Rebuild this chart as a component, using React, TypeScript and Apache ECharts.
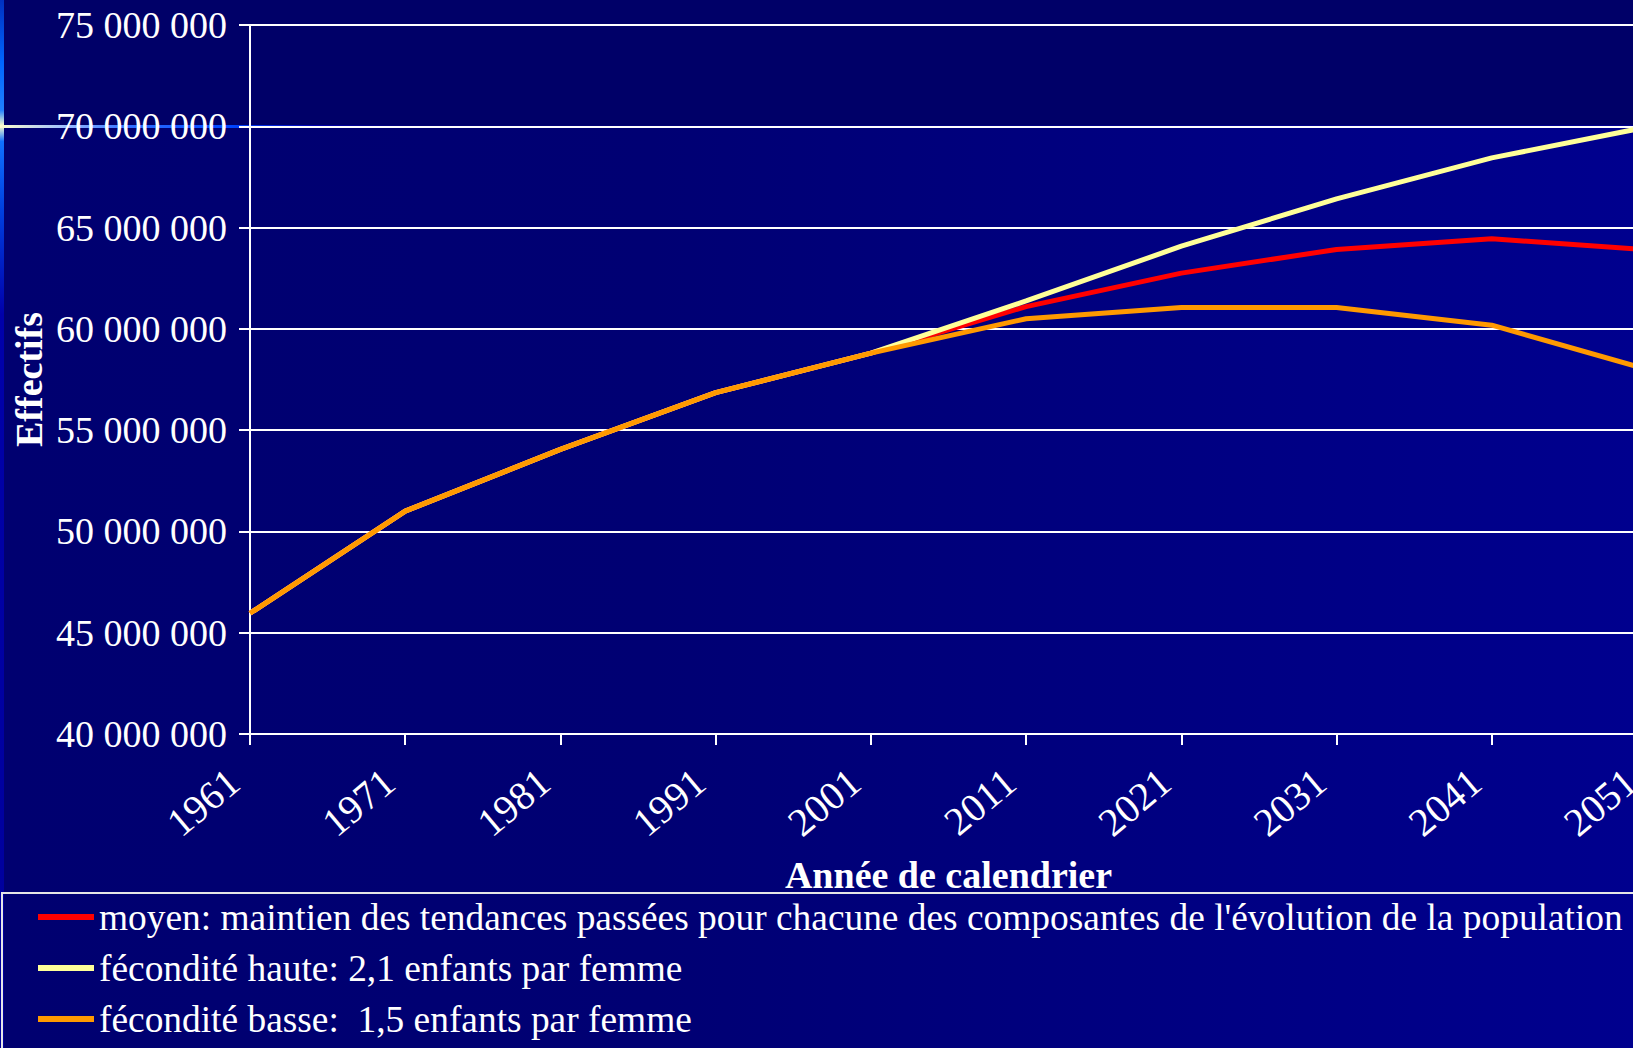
import React, { useEffect, useRef } from "react";
import * as echarts from "echarts";

const years = ["1961", "1971", "1981", "1991", "2001", "2011", "2021", "2031", "2041", "2051"];
const seriesNames = [
  "moyen: maintien des tendances passées pour chacune des composantes de l'évolution de la population",
  "fécondité haute: 2,1 enfants par femme",
  "fécondité basse:  1,5 enfants par femme",
];
const moyen = [45960000, 51000000, 54050000, 56850000, 58800000, 61100000, 62750000, 63920000, 64450000, 63900000];
const haute = [45960000, 51000000, 54050000, 56850000, 58800000, 61380000, 64080000, 66420000, 68440000, 69960000];
const basse = [45960000, 51000000, 54050000, 56850000, 58800000, 60500000, 61050000, 61050000, 60180000, 58000000];
const colors = ["#FF0000", "#FFFF99", "#FF9900"];
const yTitle = "Effectifs";
const xTitle = "Année de calendrier";

const FONT = "Liberation Serif, Times New Roman, DejaVu Serif, serif";

const fmt = (v: number) => String(v).replace(/\B(?=(\d{3})+(?!\d))/g, " ");

export default function App() {
  const ref = useRef<HTMLDivElement>(null);
  useEffect(() => {
    if (!ref.current) return;
    const chart = echarts.init(ref.current, null, { renderer: "svg" });
    const dataSets = [moyen, haute, basse];
    chart.setOption({
      animation: false,
      textStyle: { fontFamily: FONT },
      backgroundColor: {
        type: "linear", x: 0, y: 0, x2: 1, y2: 0,
        colorStops: [
          { offset: 0, color: "#000070" },
          { offset: 0.4, color: "#000073" },
          { offset: 1, color: "#00008E" },
        ],
      },
      graphic: [
        { type: "rect", z: -10, silent: true, shape: { x: 0, y: 0, width: 1633, height: 125 }, style: { fill: "#000068" } },
        {
          type: "rect", z: -9, silent: true, shape: { x: 0, y: 0, width: 4, height: 1048 },
          style: {
            fill: {
              type: "linear", x: 0, y: 0, x2: 0, y2: 1,
              colorStops: [
                { offset: 0, color: "#0030c0" },
                { offset: 0.06, color: "#0066ff" },
                { offset: 0.105, color: "#2080ff" },
                { offset: 0.12, color: "#ffffcc" },
                { offset: 0.135, color: "#1070ff" },
                { offset: 0.2, color: "#0040e0" },
                { offset: 0.3, color: "#0000aa" },
                { offset: 1, color: "#00009a" },
              ],
            },
          },
        },
        {
          type: "rect", z: -9, silent: true, shape: { x: 0, y: 125, width: 420, height: 3 },
          style: {
            fill: {
              type: "linear", x: 0, y: 0, x2: 1, y2: 0,
              colorStops: [
                { offset: 0, color: "#ffffcc" },
                { offset: 0.15, color: "#a0c0ff" },
                { offset: 0.3, color: "#3070ff" },
                { offset: 0.55, color: "#0045ff" },
                { offset: 0.75, color: "#0000b0" },
                { offset: 1, color: "rgba(0,0,140,0)" },
              ],
            },
          },
        },
        {
          type: "rect", z: 5, silent: true, shape: { x: 2, y: 893, width: 1660, height: 200 },
          style: { fill: "none", stroke: "#e6e6e6", lineWidth: 2 },
        },
      ],
      grid: { left: 250, top: 25, right: -14, bottom: 314, containLabel: false, outerBoundsMode: "none" },
      legend: {
        orient: "vertical",
        left: 38,
        top: 896,
        padding: 0,
        icon: "rect",
        itemWidth: 56,
        itemHeight: 6,
        itemGap: 9,
        data: seriesNames,
        textStyle: { color: "#ffffff", fontFamily: FONT, fontSize: 37.4, lineHeight: 42 },
      },
      xAxis: {
        type: "category",
        data: years,
        boundaryGap: false,
        name: xTitle,
        nameLocation: "middle",
        nameGap: 122,
        nameMoveOverlap: false,
        nameTextStyle: { color: "#ffffff", fontFamily: FONT, fontSize: 38, fontWeight: "bold" },
        axisLine: { show: true, lineStyle: { color: "#ffffff", width: 2 } },
        axisTick: { show: true, length: 11, lineStyle: { color: "#ffffff", width: 2 } },
        axisLabel: {
          color: "#ffffff", fontFamily: FONT, fontSize: 40, rotate: 40, margin: 29, interval: 0,
          padding: [0, 21, 0, 0],
        },
        splitLine: { show: false },
      },
      yAxis: {
        type: "value",
        min: 40000000,
        max: 75000000,
        interval: 5000000,
        name: yTitle,
        nameLocation: "middle",
        nameRotate: 90,
        nameGap: 202,
        nameMoveOverlap: false,
        nameTextStyle: { color: "#ffffff", fontFamily: FONT, fontSize: 38, fontWeight: "bold" },
        axisLine: { show: true, lineStyle: { color: "#ffffff", width: 2 } },
        axisTick: { show: true, length: 11, lineStyle: { color: "#ffffff", width: 2 } },
        axisLabel: { color: "#ffffff", fontFamily: FONT, fontSize: 38, margin: 23, formatter: fmt },
        splitLine: { show: true, lineStyle: { color: "#ffffff", width: 2 } },
      },
      series: seriesNames.map((name, i) => ({
        name,
        type: "line",
        data: dataSets[i],
        symbol: "none",
        color: colors[i],
        lineStyle: { color: colors[i], width: 5 },
        z: 2 + i,
      })),
    });
    return () => chart.dispose();
  }, []);
  return (
    <div style={{ position: "fixed", left: 0, top: 0, width: 1633, height: 1048, overflow: "hidden" }}>
      <div ref={ref} style={{ width: 1633, height: 1048 }} />
    </div>
  );
}
